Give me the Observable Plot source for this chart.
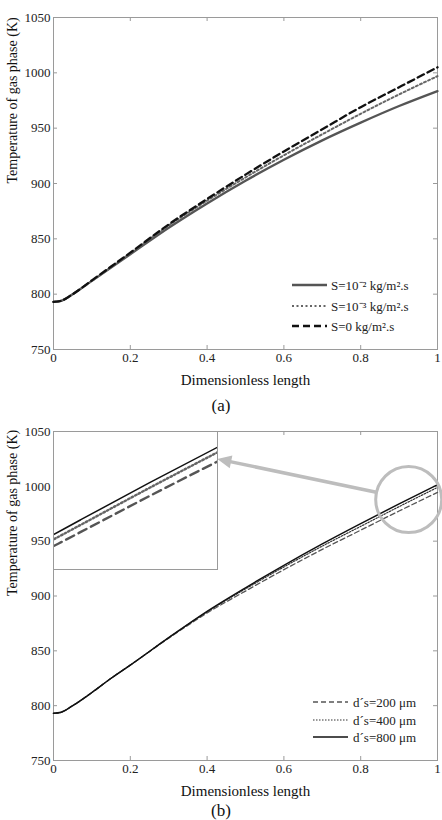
<!DOCTYPE html>
<html>
<head>
<meta charset="utf-8">
<script src="https://cdn.jsdelivr.net/npm/d3@7"></script>
<script src="https://cdn.jsdelivr.net/npm/@observablehq/plot@0.6"></script>
<style>
  body { margin: 0; background: #fff; }
  #fig { position: relative; width: 442px; height: 820px; overflow: hidden;
         font-family: "Liberation Serif", "Times New Roman", serif; }
  #fig svg { position: absolute; left: 0; }
  .cap { position: absolute; left: 0; width: 442px; text-align: center;
         font-size: 17px; line-height: 1; color: #111; }
</style>
</head>
<body>
<div id="fig"></div>
<script>
// Dimensionless positions along the reactor
const positions = [0, 0.02, 0.05, 0.1, 0.15, 0.2, 0.3, 0.4, 0.5, 0.6, 0.7, 0.8, 0.9, 1];

// (a) Gas-phase temperature (K) for three sorption rates S
const tempS1e2 = [793, 794, 800, 812, 824, 836, 860, 882, 902.5, 921.5, 939, 955, 970, 983.5];
const tempS1e3 = [793, 794, 800, 812, 824.5, 837, 862, 884.5, 905.5, 925.5, 944.5, 963, 980.5, 997];
const tempS0   = [793, 794, 800, 812.5, 825, 837.5, 863, 886, 908, 929, 949, 969, 987, 1005];
const labelsA  = ["S=10\u207B\u00B2 kg/m\u00B2.s", "S=10\u207B\u00B3 kg/m\u00B2.s", "S=0 kg/m\u00B2.s"];

// (b) Gas-phase temperature (K) for three particle diameters
const tempD200 = [793, 794, 800, 812, 825, 837, 861.5, 884.5, 904.5, 924, 942.5, 960, 977.5, 994.5];
const tempD400 = [793, 794, 800, 812, 825, 837, 862, 885.5, 906.5, 926.5, 945.5, 963.5, 981.5, 999];
const tempD800 = [793, 794, 800, 812, 825, 837, 862, 886, 907.5, 928, 947.5, 966, 984, 1001.5];
const labelsB  = ["d\u00B4s=200 \u03BCm", "d\u00B4s=400 \u03BCm", "d\u00B4s=800 \u03BCm"];

// Axes
const xTicks = [0, 0.2, 0.4, 0.6, 0.8, 1];
const xTickLabels = ["0", "0.2", "0.4", "0.6", "0.8", "1"];
const yTicks = [750, 800, 850, 900, 950, 1000, 1050];
const yTickLabels = ["750", "800", "850", "900", "950", "1000", "1050"];
const xTitle = "Dimensionless length";
const yTitle = "Temperature of gas phase (K)";

// Zoomed region of panel (b) and its callout
const zoomX = [0.76, 1];
const zoomT = [941.6, 1009.2];
const ringCenter = [{x: 0.925, T: 988}];
const callout = [{x1: 0.845, T1: 994, x2: 0.428, T2: 1024.5}];

const serif = '"Liberation Serif", "Times New Roman", serif';
const axisGray = "#9a9a9a";
const calloutGray = "#bdbdbd";
const fig = document.getElementById("fig");

const rowsOf = (values) => positions.map((x, i) => ({x, T: values[i]}));

// Legend drawn inside the frame, anchored to its lower-right corner
function legendMark(entries, {right, lineLen, gap, rows}) {
  return (index, scales, values, dims) => {
    const g = d3.create("svg:g").attr("text-anchor", "start");
    const x0 = dims.width - dims.marginRight - right;
    const yb = dims.height - dims.marginBottom;
    entries.forEach((e, i) => {
      const y = yb - rows[i];
      g.append("line")
        .attr("x1", x0).attr("x2", x0 + lineLen).attr("y1", y).attr("y2", y)
        .attr("stroke", e.stroke).attr("stroke-width", e.width)
        .attr("stroke-dasharray", e.dash || null);
      g.append("text")
        .attr("x", x0 + lineLen + gap).attr("y", y).attr("dy", "0.35em")
        .attr("font-size", 13).attr("fill", "#222").text(e.label);
    });
    return g.node();
  };
}

// Callout arrow with a filled head, positioned through the plot scales
function calloutArrow(data, {headLength, headWidth, width, color}) {
  return (index, scales) => {
    const g = d3.create("svg:g");
    for (const d of data) {
      const x1 = scales.x(d.x1), y1 = scales.y(d.T1);
      const x2 = scales.x(d.x2), y2 = scales.y(d.T2);
      const len = Math.hypot(x2 - x1, y2 - y1);
      const ux = (x2 - x1) / len, uy = (y2 - y1) / len;
      const bx = x2 - ux * headLength, by = y2 - uy * headLength;
      g.append("line").attr("x1", x1).attr("y1", y1).attr("x2", bx + ux).attr("y2", by + uy)
        .attr("stroke", color).attr("stroke-width", width);
      g.append("path")
        .attr("d", `M${x2},${y2}L${bx - uy * headWidth},${by + ux * headWidth}L${bx + uy * headWidth},${by - ux * headWidth}Z`)
        .attr("fill", color);
    }
    return g.node();
  };
}

function panel({series, legend, height, marginBottom, extra = []}) {
  const marginTop = 17, marginLeft = 53, marginRight = 5;
  const plotH = height - marginTop - marginBottom;
  const plotW = 442 - marginLeft - marginRight;
  return Plot.plot({
    width: 442, height, marginTop, marginBottom, marginLeft, marginRight,
    style: {fontFamily: serif, fontSize: "13px", color: "#222", background: "white", overflow: "visible"},
    x: {domain: [0, 1]},
    y: {domain: [750, 1050]},
    marks: [
      Plot.frame({stroke: axisGray}),
      // inward ticks on all four sides
      Plot.ruleX(xTicks.slice(1, -1), {stroke: axisGray, insetTop: plotH - 4}),
      Plot.ruleX(xTicks.slice(1, -1), {stroke: axisGray, insetBottom: plotH - 4}),
      Plot.ruleY(yTicks.slice(1, -1), {stroke: axisGray, insetRight: plotW - 4}),
      Plot.ruleY(yTicks.slice(1, -1), {stroke: axisGray, insetLeft: plotW - 4}),
      Plot.axisX({ticks: xTicks, tickFormat: (d) => xTickLabels[xTicks.indexOf(d)], tickSize: 0, tickPadding: 3, label: null}),
      Plot.axisY({ticks: yTicks, tickFormat: (d) => yTickLabels[yTicks.indexOf(d)], tickSize: 0, tickPadding: 3, label: null}),
      Plot.text([xTitle], {frameAnchor: "bottom", dy: 35, text: (d) => d, fontSize: 15, fill: "#111"}),
      Plot.text([yTitle], {frameAnchor: "left", dx: -41, rotate: -90, text: (d) => d, fontSize: 14, fill: "#111"}),
      ...series.map((s) => Plot.line(rowsOf(s.values), {
        x: "x", y: "T", curve: "monotone-x", stroke: s.stroke, strokeWidth: s.width,
        strokeDasharray: s.dash
      })),
      ...extra,
      legendMark(series.map((s, i) => ({...s, label: legend.labels[i]})), legend)
    ]
  });
}

// Panel (a)
const seriesA = [
  {values: tempS1e2, stroke: "#555", width: 2.3},
  {values: tempS1e3, stroke: "#666", width: 2, dash: "2,2.5"},
  {values: tempS0,   stroke: "#111", width: 2.3, dash: "7,4"}
];
const svgA = panel({
  series: seriesA,
  legend: {labels: labelsA, right: 145, lineLen: 35, gap: 4, rows: [64, 43, 23]},
  height: 392, marginBottom: 43
});
svgA.style.top = "0px";
fig.appendChild(svgA);

const capA = document.createElement("div");
capA.className = "cap"; capA.style.top = "397px"; capA.textContent = "(a)";
fig.appendChild(capA);

// Panel (b)
const seriesB = [
  {values: tempD200, stroke: "#555", width: 1.3, dash: "5,3"},
  {values: tempD400, stroke: "#333", width: 1.2, dash: "1.5,1.5"},
  {values: tempD800, stroke: "#111", width: 1.5}
];
const svgB = panel({
  series: seriesB,
  legend: {labels: labelsB, right: 124, lineLen: 35, gap: 5, rows: [58, 40, 23]},
  height: 392, marginBottom: 46,
  extra: [
    Plot.dot(ringCenter, {x: "x", y: "T", r: 33, stroke: calloutGray, strokeWidth: 3, fill: "none"}),
    calloutArrow(callout, {headLength: 14, headWidth: 6.5, width: 3.5, color: calloutGray})
  ]
});
svgB.style.top = "414px";
fig.appendChild(svgB);

// Magnified view of the outlet region
const inset = Plot.plot({
  width: 164, height: 138, margin: 0,
  style: {background: "white", overflow: "visible"},
  x: {domain: zoomX, axis: null},
  y: {domain: zoomT, axis: null},
  marks: [
    Plot.line(rowsOf(tempD200), {x: "x", y: "T", curve: "monotone-x", stroke: "#555", strokeWidth: 2.4, strokeDasharray: "9,5", clip: true}),
    Plot.line(rowsOf(tempD400), {x: "x", y: "T", curve: "monotone-x", stroke: "#666", strokeWidth: 2.4, strokeDasharray: "1.6,2.4", clip: true}),
    Plot.line(rowsOf(tempD800), {x: "x", y: "T", curve: "monotone-x", stroke: "#111", strokeWidth: 1.5, clip: true}),
    Plot.frame({stroke: axisGray})
  ]
});
inset.style.left = "53px";
inset.style.top = "431px";
fig.appendChild(inset);

const capB = document.createElement("div");
capB.className = "cap"; capB.style.top = "802px"; capB.textContent = "(b)";
fig.appendChild(capB);
</script>
</body>
</html>
